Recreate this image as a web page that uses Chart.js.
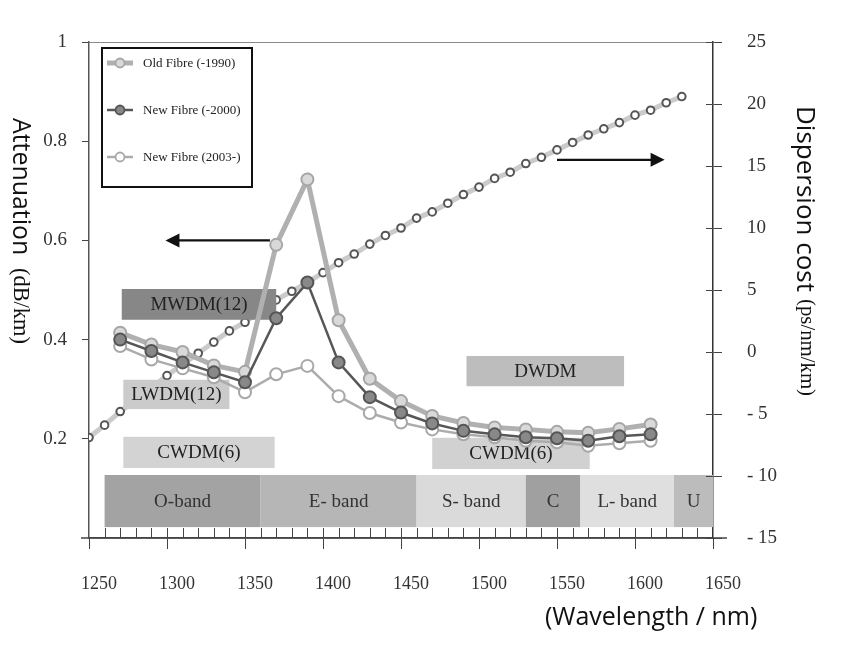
<!DOCTYPE html>
<html>
<head>
<meta charset="utf-8">
<title>Fibre attenuation and dispersion</title>
<script src="https://cdn.jsdelivr.net/npm/chart.js@4/dist/chart.umd.min.js"></script>
<style>
  body { margin: 0; background: #fff; }
  #wrap { width: 850px; height: 660px; }
</style>
</head>
<body>
<div id="wrap"><canvas id="fibreChart" width="850" height="660"></canvas></div>
<script>
// attenuation samples (dB/km), one every 20 nm
var attWavelengths = [1270, 1290, 1310, 1330, 1350, 1370, 1390, 1410, 1430, 1450, 1470, 1490, 1510, 1530, 1550, 1570, 1590, 1610];
var oldFibre     = [0.414, 0.390, 0.375, 0.348, 0.335, 0.591, 0.723, 0.439, 0.321, 0.276, 0.246, 0.232, 0.223, 0.219, 0.214, 0.212, 0.220, 0.229];
var newFibre2000 = [0.400, 0.377, 0.354, 0.334, 0.314, 0.443, 0.515, 0.354, 0.284, 0.253, 0.231, 0.216, 0.209, 0.203, 0.201, 0.196, 0.205, 0.209];
var newFibre2003 = [0.387, 0.360, 0.342, 0.324, 0.294, 0.330, 0.347, 0.286, 0.252, 0.233, 0.219, 0.209, 0.203, 0.196, 0.193, 0.186, 0.191, 0.196];

// dispersion (ps/nm/km), one every 10 nm
var dispWavelengths = [1250, 1260, 1270, 1280, 1290, 1300, 1310, 1320, 1330, 1340, 1350, 1360, 1370, 1380, 1390, 1400, 1410, 1420, 1430, 1440,
                       1450, 1460, 1470, 1480, 1490, 1500, 1510, 1520, 1530, 1540, 1550, 1560, 1570, 1580, 1590, 1600, 1610, 1620, 1630];
var dispersion = [-6.9, -5.9, -4.8, -3.9, -2.9, -1.9, -1.0, -0.1, 0.8, 1.7, 2.4, 3.3, 4.2, 4.9, 5.6, 6.4, 7.2, 7.9, 8.7, 9.4,
                  10.0, 10.8, 11.3, 12.0, 12.7, 13.3, 14.0, 14.5, 15.2, 15.7, 16.3, 16.9, 17.5, 18.0, 18.5, 19.1, 19.5, 20.1, 20.6];

// transmission bands (nm)
var bandNames = ['O-band', 'E- band', 'S- band', 'C', 'L- band', 'U'];
var bandEdges = [1260, 1360, 1460, 1530, 1565, 1625, 1675];

// WDM windows (nm)
var wdmNames = ['MWDM(12)', 'LWDM(12)', 'CWDM(6)', 'DWDM', 'CWDM(6)'];
var wdmStart = [1271, 1272, 1272, 1492, 1470];
var wdmEnd   = [1370, 1340, 1369, 1593, 1571];

var seriesNames = ['Old Fibre (-1990)', 'New Fibre (-2000)', 'New Fibre (2003-)'];

var SERIF = '"Liberation Serif", "DejaVu Serif", serif';
var SANS = '"Open Sans", "Noto Sans", sans-serif';

function toPoints(xs, ys) {
  return xs.map(function (x, i) { return { x: x, y: ys[i] }; });
}

// font size that makes the text as wide as wanted
function fitFont(ctx, text, family, width) {
  ctx.font = '100px ' + family;
  var size = 100 * width / ctx.measureText(text).width;
  return size.toFixed(1) + 'px ' + family;
}

function arrow(ctx, x1, x2, y) {
  var dir = x2 > x1 ? 1 : -1;
  ctx.strokeStyle = '#111';
  ctx.fillStyle = '#111';
  ctx.lineWidth = 2.2;
  ctx.beginPath();
  ctx.moveTo(x1, y);
  ctx.lineTo(x2 - dir * 10, y);
  ctx.stroke();
  ctx.beginPath();
  ctx.moveTo(x2, y);
  ctx.lineTo(x2 - dir * 14, y - 7);
  ctx.lineTo(x2 - dir * 14, y + 7);
  ctx.closePath();
  ctx.fill();
}

var bandsPlugin = {
  id: 'bands',
  // boxes sit above the dispersion curve but under the attenuation curves
  afterDatasetDraw: function (chart, args) {
    if (chart.data.datasets[args.index].yAxisID !== 'y2') return;
    var ctx = chart.ctx, x = chart.scales.x, y = chart.scales.y;
    var area = chart.chartArea;
    ctx.save();
    ctx.textAlign = 'center';
    ctx.textBaseline = 'middle';

    var bandFill = ['#a3a3a3', '#b6b6b6', '#dadada', '#a0a0a0', '#dfdfdf', '#bcbcbc'];
    var top = y.getPixelForValue(0.127), bot = y.getPixelForValue(0.022);
    ctx.font = '19px ' + SERIF;
    for (var i = 0; i < bandNames.length; i++) {
      var l = x.getPixelForValue(bandEdges[i]);
      var r = Math.min(x.getPixelForValue(bandEdges[i + 1]), area.right);
      ctx.fillStyle = bandFill[i];
      ctx.fillRect(l, top, r - l, bot - top);
      ctx.fillStyle = '#333';
      ctx.fillText(bandNames[i], (l + r) / 2, (top + bot) / 2 + 1);
    }

    var wdmFill = ['#878787', '#cbcbcb', '#d3d3d3', '#bdbdbd', '#d1d1d1'];
    var wdmRows = [[0.440, 0.502], [0.260, 0.319], [0.141, 0.204], [0.306, 0.367], [0.139, 0.202]];
    for (var j = 0; j < wdmNames.length; j++) {
      var l2 = x.getPixelForValue(wdmStart[j]), r2 = x.getPixelForValue(wdmEnd[j]);
      var t2 = y.getPixelForValue(wdmRows[j][1]), b2 = y.getPixelForValue(wdmRows[j][0]);
      ctx.fillStyle = wdmFill[j];
      ctx.fillRect(l2, t2, r2 - l2, b2 - t2);
      ctx.fillStyle = '#222';
      ctx.fillText(wdmNames[j], (l2 + r2) / 2, (t2 + b2) / 2 + 1);
    }
    ctx.restore();
  },
  afterDraw: function (chart) {
    var ctx = chart.ctx, x = chart.scales.x, y = chart.scales.y, y2 = chart.scales.y2;
    var area = chart.chartArea;
    ctx.save();

    // top frame line and axis extensions
    ctx.strokeStyle = '#8a8a8a';
    ctx.lineWidth = 1;
    ctx.beginPath();
    ctx.moveTo(area.left, area.top + 0.5);
    ctx.lineTo(area.right, area.top + 0.5);
    ctx.stroke();
    ctx.strokeStyle = '#444';
    ctx.lineWidth = 1.5;
    ctx.beginPath();
    ctx.moveTo(area.left - 8, area.bottom);
    ctx.lineTo(area.right + 14, area.bottom);
    ctx.stroke();

    // minor ticks on the wavelength axis
    ctx.lineWidth = 1;
    ctx.beginPath();
    for (var w = x.min + 10; w < x.max; w += 10) {
      var px = Math.round(x.getPixelForValue(w)) + 0.5;
      ctx.moveTo(px, area.bottom - 10);
      ctx.lineTo(px, area.bottom);
    }
    // inner half of the right axis ticks
    y2.ticks.forEach(function (t) {
      var py = Math.round(y2.getPixelForValue(t.value)) + 0.5;
      ctx.moveTo(area.right - 7, py);
      ctx.lineTo(area.right, py);
    });
    ctx.stroke();

    // arrows
    arrow(ctx, x.getPixelForValue(1366), x.getPixelForValue(1299), y.getPixelForValue(0.6));
    arrow(ctx, x.getPixelForValue(1550), x.getPixelForValue(1619), y2.getPixelForValue(15.5));

    // legend
    ctx.strokeStyle = '#111';
    ctx.lineWidth = 2;
    ctx.strokeRect(102, 48, 150, 139);
    var rows = [63, 110, 157];
    ctx.textAlign = 'left';
    ctx.textBaseline = 'middle';
    for (var i = 0; i < 3; i++) {
      var ds = chart.data.datasets[i];
      ctx.strokeStyle = ds.borderColor;
      ctx.lineWidth = ds.borderWidth;
      ctx.beginPath();
      ctx.moveTo(107, rows[i]);
      ctx.lineTo(133, rows[i]);
      ctx.stroke();
      ctx.beginPath();
      ctx.arc(120, rows[i], 4.5, 0, Math.PI * 2);
      ctx.fillStyle = ds.pointBackgroundColor;
      ctx.fill();
      ctx.lineWidth = 1.8;
      ctx.strokeStyle = ds.pointBorderColor;
      ctx.stroke();
      ctx.fillStyle = '#222';
      ctx.font = '13px ' + SERIF;
      ctx.fillText(seriesNames[i], 143, rows[i] + 1);
    }

    // axis titles, read top to bottom
    ctx.fillStyle = '#111';
    ctx.textBaseline = 'middle';
    var titles = [
      ['Attenuation', SANS, 137, 20, 118],
      ['(dB/km)', SERIF, 76, 20, 268],
      ['Dispersion cost', SANS, 186, 804, 106],
      ['(ps/nm/km)', SERIF, 97, 806, 299]
    ];
    titles.forEach(function (t) {
      ctx.save();
      ctx.font = fitFont(ctx, t[0], t[1], t[2]);
      ctx.translate(t[3], t[4]);
      ctx.rotate(Math.PI / 2);
      ctx.fillText(t[0], 0, 0);
      ctx.restore();
    });
    ctx.font = fitFont(ctx, '(Wavelength / nm)', SANS, 212);
    ctx.fillText('(Wavelength / nm)', 545, 618);
    ctx.restore();
  }
};

var ctx = document.getElementById('fibreChart').getContext('2d');
var fibreChart = new Chart(ctx, {
  type: 'line',
  data: {
    datasets: [{
      label: seriesNames[0],
      data: toPoints(attWavelengths, oldFibre),
      yAxisID: 'y',
      borderColor: '#b0b0b0',
      borderWidth: 5,
      pointRadius: 6,
      pointBackgroundColor: '#d9d9d9',
      pointBorderColor: '#a6a6a6',
      pointBorderWidth: 2,
      order: 3
    }, {
      label: seriesNames[1],
      data: toPoints(attWavelengths, newFibre2000),
      yAxisID: 'y',
      borderColor: '#575757',
      borderWidth: 2.5,
      pointRadius: 6,
      pointBackgroundColor: '#888888',
      pointBorderColor: '#555555',
      pointBorderWidth: 2,
      order: 1
    }, {
      label: seriesNames[2],
      data: toPoints(attWavelengths, newFibre2003),
      yAxisID: 'y',
      borderColor: '#acacac',
      borderWidth: 2.5,
      pointRadius: 6,
      pointBackgroundColor: '#ffffff',
      pointBorderColor: '#a8a8a8',
      pointBorderWidth: 2,
      order: 2
    }, {
      label: 'Dispersion',
      data: toPoints(dispWavelengths, dispersion),
      yAxisID: 'y2',
      borderColor: '#cbcbcb',
      borderWidth: 5,
      pointRadius: 3.8,
      pointBackgroundColor: '#ffffff',
      pointBorderColor: '#555555',
      pointBorderWidth: 2,
      order: 4
    }]
  },
  options: {
    responsive: false,
    animation: false,
    devicePixelRatio: 1,
    layout: { padding: { top: 42, left: 0, right: 0, bottom: 0 } },
    plugins: { legend: { display: false }, tooltip: { enabled: false } },
    scales: {
      x: {
        type: 'linear',
        min: 1250,
        max: 1650,
        ticks: {
          stepSize: 50,
          padding: 24,
          labelOffset: 10,
          color: '#333',
          font: { family: SERIF, size: 18 },
          callback: function (v) { return String(v); }
        },
        grid: { drawOnChartArea: false, tickLength: 11, color: '#444' },
        border: { color: '#444', width: 1.5 },
        afterFit: function (s) { s.height = 122; }
      },
      y: {
        position: 'left',
        min: 0,
        max: 1,
        ticks: {
          stepSize: 0.2,
          padding: 15,
          color: '#333',
          font: { family: SERIF, size: 19 },
          callback: function (v) { return v === 0 ? '' : (v === 1 ? '1' : v.toFixed(1)); }
        },
        grid: {
          drawOnChartArea: false,
          tickLength: 7,
          color: function (c) { return c.tick && c.tick.value === 0 ? 'rgba(0,0,0,0)' : '#444'; }
        },
        border: { color: '#555', width: 1.5 },
        afterFit: function (s) { s.width = 89; }
      },
      y2: {
        position: 'right',
        min: -15,
        max: 25,
        ticks: {
          stepSize: 5,
          padding: 25,
          color: '#333',
          font: { family: SERIF, size: 19 },
          callback: function (v) { return v < 0 ? '- ' + Math.abs(v) : String(v); }
        },
        grid: { drawOnChartArea: false, tickLength: 9, color: '#444' },
        border: { color: '#333', width: 1.5 },
        afterFit: function (s) { s.width = 137; }
      }
    }
  },
  plugins: [bandsPlugin]
});
</script>
</body>
</html>
